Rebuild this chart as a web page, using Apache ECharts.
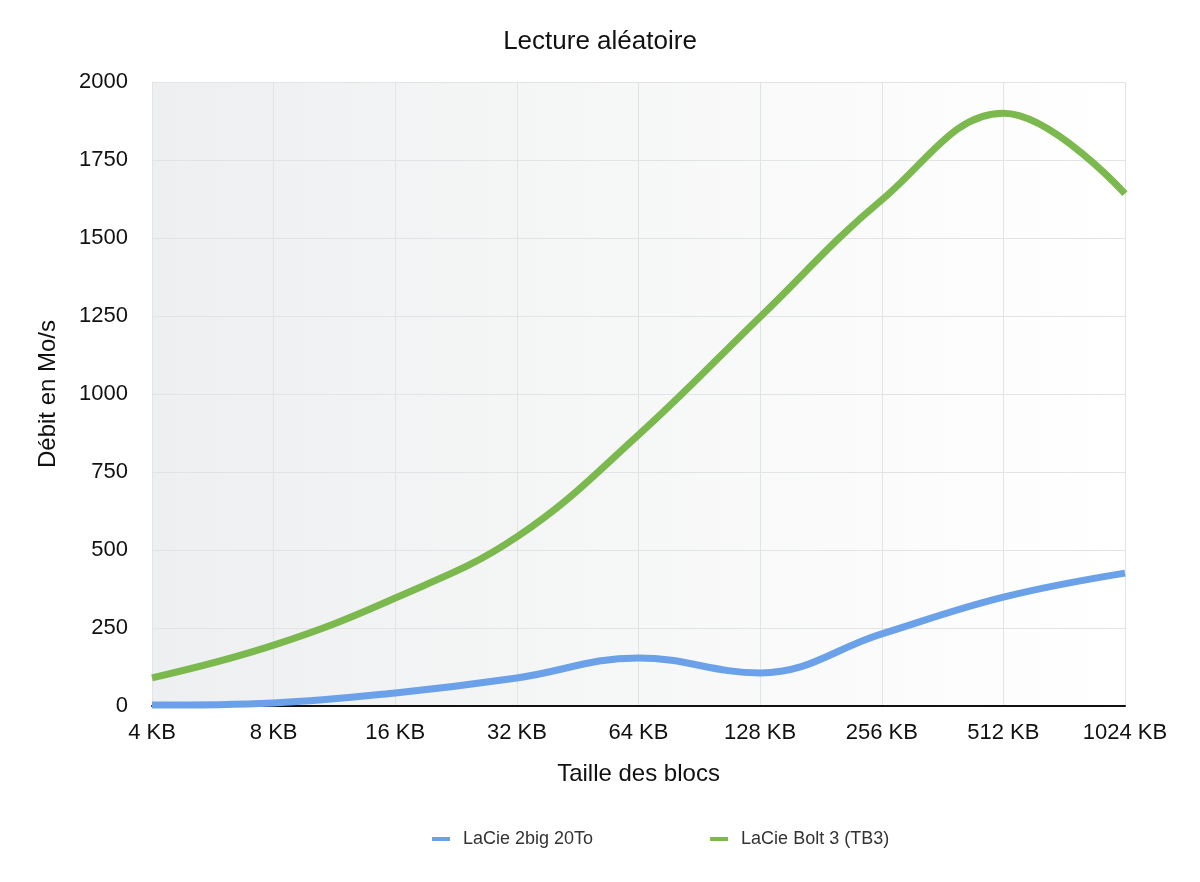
<!DOCTYPE html>
<html><head><meta charset="utf-8">
<script src="https://cdn.jsdelivr.net/npm/echarts@6/dist/echarts.min.js"></script>
<style>html,body{margin:0;padding:0;background:#fff}#c{width:1200px;height:882px}</style>
</head><body><div id="c"></div>
<script>
const categories = ['4 KB','8 KB','16 KB','32 KB','64 KB','128 KB','256 KB','512 KB','1024 KB'];
const lacie2big = [3, 10, 42, 90, 154, 106, 231, 349, 426];
const lacieBolt = [90, 195, 346, 542, 869, 1247, 1622, 1900, 1642];
const seriesNames = ['LaCie 2big 20To', 'LaCie Bolt 3 (TB3)'];
const font = 'Liberation Sans, Arial, Helvetica, sans-serif';
const chart = echarts.init(document.getElementById('c'));
chart.setOption({
  animation: false,
  backgroundColor: '#ffffff',
  title: { text: 'Lecture aléatoire', left: 'center', top: 24,
    textStyle: { fontFamily: font, fontSize: 26, fontWeight: 'normal', color: '#111' } },
  grid: { left: 152, right: 75, top: 82, bottom: 176, show: true, borderWidth: 0,
    backgroundColor: new echarts.graphic.LinearGradient(0,0,1,0,[{offset:0,color:'#eeeff0'},{offset:1,color:'#ffffff'}]) },
  legend: { left: 427, top: 825, itemGap: 117, itemWidth: 18, itemHeight: 4, icon: 'rect',
    textStyle: { fontFamily: font, fontSize: 18, color: '#333', padding: [0,0,0,8] },
    data: seriesNames },
  xAxis: { type: 'category', data: categories, boundaryGap: false,
    name: 'Taille des blocs', nameLocation: 'middle', nameGap: 56,
    nameTextStyle: { fontFamily: font, fontSize: 24, color: '#111' },
    axisLine: { lineStyle: { color: '#111', width: 2 } },
    axisTick: { show: false },
    axisLabel: { fontFamily: font, fontSize: 22, color: '#111', margin: 16 },
    splitLine: { show: true, lineStyle: { color: '#e2e3e4', width: 1 } } },
  yAxis: { type: 'value', min: 0, max: 2000, interval: 250,
    name: 'Débit en Mo/s', nameLocation: 'middle', nameGap: 92,
    nameTextStyle: { fontFamily: font, fontSize: 24, color: '#111' },
    axisLine: { show: false }, axisTick: { show: false },
    axisLabel: { fontFamily: font, fontSize: 22, color: '#111', margin: 24, formatter: v => String(v) },
    splitLine: { lineStyle: { color: '#e2e3e4', width: 1 } } },
  series: [
    { name: seriesNames[0], type: 'line', data: lacie2big, smooth: 0.4, showSymbol: false,
      lineStyle: { width: 7, color: '#6aa1e8' }, itemStyle: { color: '#6aa1e8' } },
    { name: seriesNames[1], type: 'line', data: lacieBolt, smooth: 0.4, showSymbol: false,
      lineStyle: { width: 7, color: '#7bb84e' }, itemStyle: { color: '#7bb84e' } }
  ]
});
</script></body></html>
